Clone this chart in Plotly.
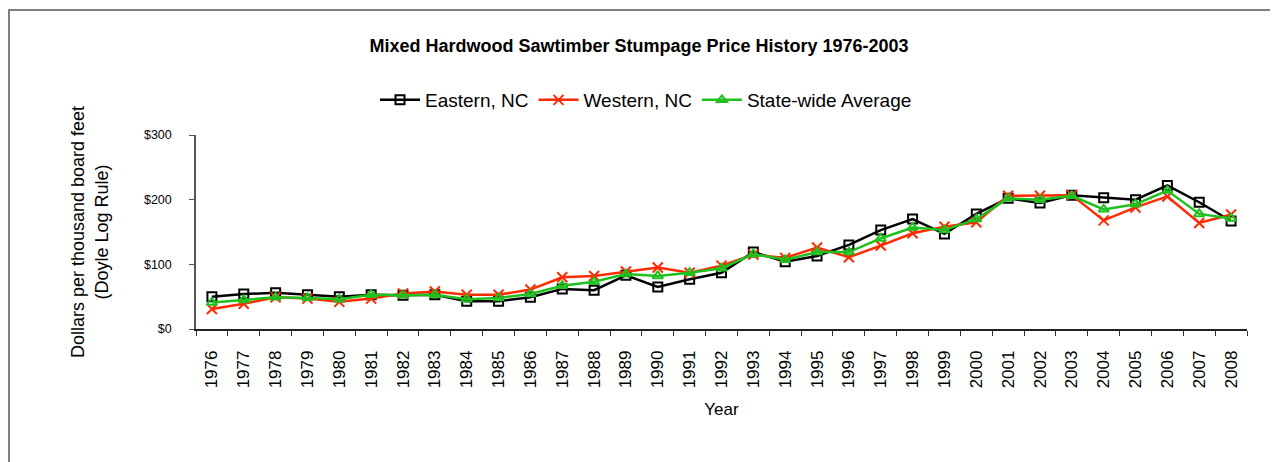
import plotly.graph_objects as go

years = [str(y) for y in range(1976, 2009)]
eastern = [50, 54, 56, 53, 50, 53, 52, 53, 43, 43, 49, 62, 60, 83, 65, 77, 87, 119, 104, 113,
           130, 153, 170, 147, 178, 202, 195, 207, 203, 200, 222, 196, 167]
western = [31, 39, 49, 47, 42, 47, 55, 58, 53, 53, 61, 80, 82, 89, 95, 87, 98, 115, 110, 126,
           111, 129, 148, 158, 165, 206, 206, 207, 168, 188, 205, 164, 177]
statewide = [41, 45, 49, 48, 46, 53, 52, 53, 46, 48, 54, 67, 73, 85, 82, 87, 94, 116, 107, 119,
             119, 140, 157, 153, 170, 202, 200, 206, 185, 193, 214, 178, 171]
y_ticks = [0, 100, 200, 300]
y_tick_labels = ["$0", "$100", "$200", "$300"]

FONT = "Arial, 'Liberation Sans', sans-serif"
RED = "#FF2A00"
GREEN = "#1EC01E"

fig = go.Figure()
fig.add_trace(go.Scatter(x=years, y=eastern, name="Eastern, NC", mode="lines+markers",
                         line=dict(color="black", width=2.5),
                         marker=dict(symbol="square-open", size=9, color="black",
                                     line=dict(width=2, color="black"))))
fig.add_trace(go.Scatter(x=years, y=western, name="Western, NC", mode="lines+markers",
                         line=dict(color=RED, width=2.5),
                         marker=dict(symbol="x-thin-open", size=10, color=RED,
                                     line=dict(width=2, color=RED))))
fig.add_trace(go.Scatter(x=years, y=statewide, name="State-wide Average", mode="lines+markers",
                         line=dict(color=GREEN, width=2.5),
                         marker=dict(symbol="triangle-up-open", size=9, color=GREEN,
                                     line=dict(width=2, color=GREEN))))

W, H = 1278, 462
L, R, T, B = 188, 39, 127, 141
pw, ph = W - L - R, H - T - B

def fx(px):
    return (px - L) / pw

def fy(py):
    return (H - B - py) / ph

fig.update_layout(
    width=W, height=H,
    margin=dict(l=L, r=R, t=T, b=B, autoexpand=False),
    paper_bgcolor="white", plot_bgcolor="white",
    font=dict(family=FONT, color="black"),
    title=dict(text="<b>Mixed Hardwood Sawtimber Stumpage Price History 1976-2003</b>",
               font=dict(size=18, family=FONT, color="black"),
               x=631 / W, xref="container", xanchor="center",
               y=1 - 38 / H, yref="container", yanchor="middle"),
    legend=dict(orientation="h", x=fx(638), xanchor="center",
                y=fy(92), yanchor="middle",
                font=dict(size=19, family=FONT), bgcolor="rgba(0,0,0,0)",
                itemwidth=40, tracegroupgap=0),
    showlegend=True,
    shapes=[dict(type="rect", xref="paper", yref="paper",
                 x0=fx(1), x1=fx(1400),
                 y0=fy(600), y1=fy(2),
                 line=dict(color="#555555", width=1.5), fillcolor="rgba(0,0,0,0)",
                 layer="below")],
)
fig.update_xaxes(type="category", range=[-0.5, 32.5], tickson="boundaries",
                 ticks="outside", ticklen=5, tickcolor="#333333", tickwidth=1,
                 showline=True, linecolor="#222222", linewidth=1.5, showgrid=False,
                 tickangle=-90, tickfont=dict(size=17, family=FONT),
                 ticklabelstandoff=13,
                 title=dict(text="Year", font=dict(size=17, family=FONT), standoff=16),
                 automargin=False, zeroline=False)
fig.update_yaxes(range=[0, 300], tickvals=y_ticks, ticktext=y_tick_labels,
                 ticks="outside", ticklen=5, tickcolor="#555555", tickwidth=1,
                 showline=True, linecolor="#555555", linewidth=1.5, showgrid=False,
                 tickfont=dict(size=12.5, family=FONT), ticklabelstandoff=15,
                 title=dict(text="Dollars per thousand board feet<br>(Doyle Log Rule)",
                            font=dict(size=18, family=FONT), standoff=31),
                 automargin=False, zeroline=False)

fig.write_html("out.html")
